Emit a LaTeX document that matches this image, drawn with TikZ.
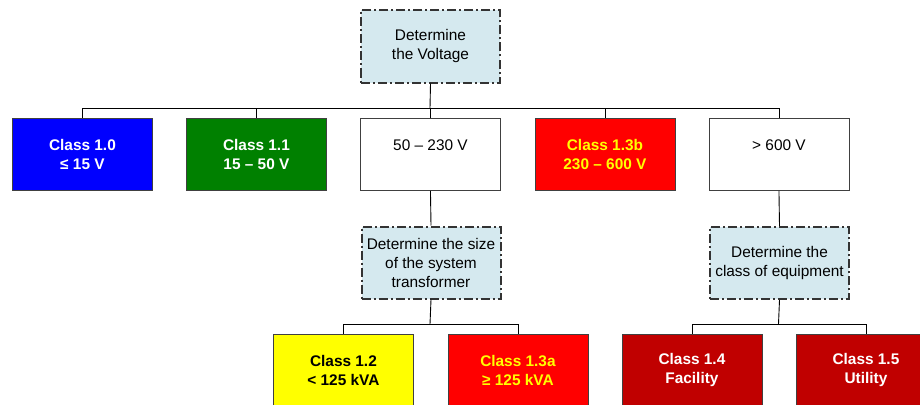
\documentclass[tikz,border=0pt]{standalone}
\usepackage{fontspec}
\setmainfont{Liberation Sans}
\definecolor{qblue}{HTML}{D5E9EF}
\definecolor{cblue}{HTML}{0000FF}
\definecolor{cgreen}{HTML}{008000}
\definecolor{cred}{HTML}{FF0000}
\definecolor{cyel}{HTML}{FFFF00}
\definecolor{cdark}{HTML}{C00000}
\definecolor{bord}{HTML}{404040}
\begin{document}
\begin{tikzpicture}[x=1pt,y=-1pt,
  every node/.style={font=\fontsize{15.4}{19}\selectfont, align=center, inner sep=0pt},
  box/.style={draw=bord, line width=0.9pt, minimum width=140pt, minimum height=72pt, anchor=north west},
  qbox/.style={draw=black!80, fill=qblue, line width=2pt, dash pattern=on 9pt off 3pt on 2pt off 3pt, minimum width=139pt, minimum height=72pt, anchor=north west},
  cls/.style={box, font=\fontsize{15.4}{19}\selectfont\bfseries},
  wire/.style={draw=black, line width=0.9pt}
]
\useasboundingbox (0,0) rectangle (920,404);
% top
\node[qbox] (top) at (360,9.5) {Determine\\the Voltage};
% row 1
\node[cls, fill=cblue, text=white] (c10) at (12,118) {Class 1.0\\≤ 15 V};
\node[cls, fill=cgreen, text=white] (c11) at (186,118) {Class 1.1\\15 – 50 V};
\node[box, fill=white] (v50) at (360,118) {50 – 230 V\\\mbox{}};
\node[cls, fill=cred, text=cyel] (c13b) at (534.5,118) {Class 1.3b\\230 – 600 V};
\node[box, fill=white] (v600) at (708.5,118) {> 600 V\\\mbox{}};
% row 2
\node[qbox] (size) at (360.5,225.5) {Determine the size\\of the system\\transformer};
\node[qbox] (equip) at (709,226) {Determine the\\class of equipment};
% row 3
\node[cls, fill=cyel, text=black] (c12) at (273,334) {Class 1.2\\< 125 kVA};
\node[cls, fill=cred, text=cyel] (c13a) at (447.5,334) {Class 1.3a\\≥ 125 kVA};
\node[cls, fill=cdark, text=white] (c14) at (621.5,334) {Class 1.4\\Facility};
\node[cls, fill=cdark, text=white] (c15) at (795.5,334) {Class 1.5\\Utility};
% buses
\coordinate (bus1) at (430,108);
\coordinate (bus2) at (430,324);
\coordinate (bus3) at (778.5,324);
\draw[wire] (top.south) -- (bus1);
\foreach \n in {c10,c11,v50,c13b,v600} \draw[wire] (bus1) -| (\n.north);
\draw[wire] (v50.south) -- (size.north);
\draw[wire] (v600.south) -- (equip.north);
\draw[wire] (size.south) -- (bus2);
\draw[wire] (bus2) -| (c12.north);
\draw[wire] (bus2) -| (c13a.north);
\draw[wire] (equip.south) -- (bus3);
\draw[wire] (bus3) -| (c14.north);
\draw[wire] (bus3) -| (c15.north);
\end{tikzpicture}
\end{document}
